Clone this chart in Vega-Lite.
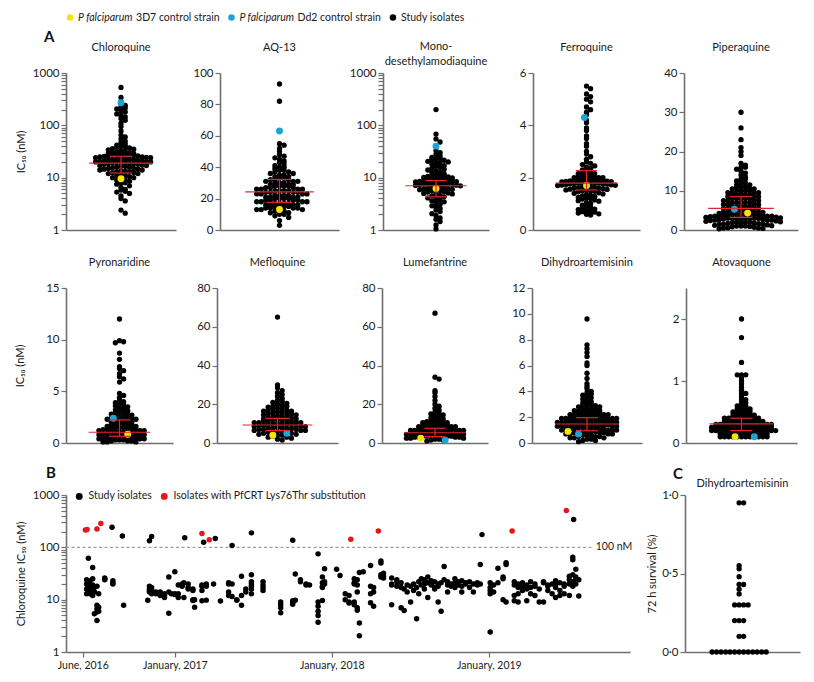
{
"$schema":"https://vega.github.io/schema/vega-lite/v6.json",
"background":"#ffffff",
"padding":{"left":14,"top":12,"right":4,"bottom":4},
"config":{
 "font":"Lato",
 "view":{"stroke":null},
 "axis":{"grid":false,"domainColor":"#6f6f6f","domainWidth":1.6,"tickColor":"#6f6f6f","tickWidth":1.2,"tickSize":5,"labelColor":"#1a1a1a","labelFontSize":11.5,"labelFont":"Lato","titleFont":"Lato","titleFontSize":11,"titleFontWeight":"normal","titleColor":"#1a1a1a","labelPadding":2},
 "axisX":{"labels":false,"ticks":false},
 "title":{"font":"Lato","fontSize":11,"fontWeight":"normal","color":"#1a1a1a","offset":14,"frame":"group","lineHeight":15},
 "circle":{"opacity":1,"size":28},
 "legend":{"labelFont":"Lato"}
},
"datasets":{
 "lg":[{"i":"a","it":"P falciparum","tx":"3D7 control strain"},{"i":"b","it":"P falciparum","tx":"Dd2 control strain"},{"i":"c","it":"","tx":"Study isolates"}],
 "st":[{"d":"cq","med":19,"q1":12.3,"q3":25.6},{"d":"aq","med":24.3,"q1":17.5,"q3":32.2},{"d":"md","med":7,"q1":4.3,"q3":8.8},{"d":"fq","med":1.79,"q1":1.53,"q3":2.27},{"d":"pq","med":5.5,"q1":3.2,"q3":8.5},{"d":"py","med":1.04,"q1":0.65,"q3":2.23},{"d":"mq","med":9.3,"q1":6.4,"q3":12.7},{"d":"lu","med":5.3,"q1":3.3,"q3":7.6},{"d":"dh","med":1.47,"q1":0.95,"q3":1.96},{"d":"at","med":0.31,"q1":0.2,"q3":0.4}],
 "cq":[{"v":530},{"v":340},{"v":285},{"v":260},{"v":240},{"v":225},{"v":215},{"v":205},{"v":190},{"v":180},{"v":165},{"v":155},{"v":145},{"v":135},{"v":125},{"v":110},{"v":95},{"v":78},{"v":65},{"v":60},{"v":55},{"v":50},{"v":47},{"v":44},{"v":42},{"v":40},{"v":39},{"v":38},{"v":37},{"v":36},{"v":35},{"v":34},{"v":33},{"v":32},{"v":31},{"v":30},{"v":30},{"v":29},{"v":29},{"v":28},{"v":28},{"v":27.5},{"v":27},{"v":27},{"v":26.5},{"v":26},{"v":26},{"v":25.5},{"v":25},{"v":25},{"v":24.5},{"v":24},{"v":24},{"v":23.5},{"v":23},{"v":23},{"v":22.5},{"v":22},{"v":22},{"v":21.5},{"v":21.5},{"v":21},{"v":21},{"v":20.5},{"v":20.5},{"v":20},{"v":20},{"v":19.8},{"v":19.5},{"v":19.5},{"v":19},{"v":19},{"v":18.5},{"v":18.5},{"v":18},{"v":18},{"v":17.5},{"v":17},{"v":17},{"v":16.5},{"v":16.5},{"v":16},{"v":16},{"v":15.5},{"v":15},{"v":15},{"v":14.5},{"v":14.5},{"v":14},{"v":14},{"v":13.5},{"v":13.5},{"v":13},{"v":13},{"v":12.5},{"v":12.5},{"v":12},{"v":12},{"v":11.5},{"v":11},{"v":11},{"v":10.5},{"v":10},{"v":10},{"v":9.5},{"v":9},{"v":9},{"v":8.5},{"v":8},{"v":8},{"v":7.5},{"v":7},{"v":6.5},{"v":6},{"v":5.8},{"v":5.5},{"v":5.3},{"v":5},{"v":4.5},{"v":4},{"v":3.6},{"v":2.4},{"v":2.1},{"v":9.5,"t":"y"},{"v":270,"t":"b"}],
 "aq":[{"v":93},{"v":82},{"v":55},{"v":54},{"v":52},{"v":50},{"v":48},{"v":47},{"v":46},{"v":45},{"v":44},{"v":43},{"v":42},{"v":41},{"v":40},{"v":40},{"v":39},{"v":38},{"v":38},{"v":37},{"v":37},{"v":36},{"v":36},{"v":35},{"v":35},{"v":34},{"v":34},{"v":33},{"v":33},{"v":32},{"v":32},{"v":32},{"v":31},{"v":31},{"v":31},{"v":30},{"v":30},{"v":30},{"v":29},{"v":29},{"v":29},{"v":28},{"v":28},{"v":28},{"v":28},{"v":27},{"v":27},{"v":27},{"v":26},{"v":26},{"v":26},{"v":26},{"v":25},{"v":25},{"v":25},{"v":25},{"v":24},{"v":24},{"v":24},{"v":24},{"v":23},{"v":23},{"v":23},{"v":23},{"v":22},{"v":22},{"v":22},{"v":22},{"v":21},{"v":21},{"v":21},{"v":21},{"v":20},{"v":20},{"v":20},{"v":20},{"v":19},{"v":19},{"v":19},{"v":19},{"v":18},{"v":18},{"v":18},{"v":18},{"v":17},{"v":17},{"v":17},{"v":17},{"v":16},{"v":16},{"v":16},{"v":16},{"v":15},{"v":15},{"v":15},{"v":15},{"v":14},{"v":14},{"v":14},{"v":14},{"v":13},{"v":13},{"v":13},{"v":12},{"v":12},{"v":12},{"v":11},{"v":11},{"v":10},{"v":10},{"v":9},{"v":8},{"v":6},{"v":3},{"v":13,"t":"y"},{"v":63,"t":"b"}],
 "md":[{"v":200},{"v":68},{"v":55},{"v":48},{"v":33},{"v":30},{"v":28},{"v":26},{"v":24.5},{"v":23.5},{"v":23},{"v":22},{"v":21.5},{"v":20.5},{"v":20},{"v":19.5},{"v":19},{"v":18},{"v":17},{"v":16.5},{"v":16},{"v":15},{"v":14.5},{"v":14},{"v":13.5},{"v":13},{"v":12.5},{"v":12},{"v":11.7},{"v":11.4},{"v":11.1},{"v":10.9},{"v":10.6},{"v":10.3},{"v":10.1},{"v":9.9},{"v":9.8},{"v":9.6},{"v":9.5},{"v":9.3},{"v":9.1},{"v":9.0},{"v":8.8},{"v":8.6},{"v":8.5},{"v":8.4},{"v":8.3},{"v":8.1},{"v":8.0},{"v":7.9},{"v":7.8},{"v":7.7},{"v":7.6},{"v":7.5},{"v":7.4},{"v":7.3},{"v":7.2},{"v":7.1},{"v":7.0},{"v":6.85},{"v":6.7},{"v":6.5},{"v":6.4},{"v":6.3},{"v":6.2},{"v":6.1},{"v":6.0},{"v":5.9},{"v":5.8},{"v":5.7},{"v":5.6},{"v":5.4},{"v":5.3},{"v":5.1},{"v":5.0},{"v":4.9},{"v":4.8},{"v":4.6},{"v":4.5},{"v":4.3},{"v":4.1},{"v":4.0},{"v":3.8},{"v":3.6},{"v":3.45},{"v":3.3},{"v":3.1},{"v":2.9},{"v":2.75},{"v":2.6},{"v":2.4},{"v":2.25},{"v":2.05},{"v":1.9},{"v":1.7},{"v":1.6},{"v":1.45},{"v":1.25},{"v":1.05},{"v":6.2,"t":"y"},{"v":40,"t":"b"}],
 "fq":[{"v":5.5},{"v":5.4},{"v":5.2},{"v":5.1},{"v":5.0},{"v":4.9},{"v":4.7},{"v":4.6},{"v":4.5},{"v":4.4},{"v":4.2},{"v":4.1},{"v":3.9},{"v":3.8},{"v":3.6},{"v":3.5},{"v":3.3},{"v":3.2},{"v":3.0},{"v":2.9},{"v":2.8},{"v":2.7},{"v":2.6},{"v":2.55},{"v":2.5},{"v":2.45},{"v":2.4},{"v":2.35},{"v":2.3},{"v":2.25},{"v":2.2},{"v":2.2},{"v":2.15},{"v":2.15},{"v":2.1},{"v":2.1},{"v":2.1},{"v":2.05},{"v":2.05},{"v":2.0},{"v":2.0},{"v":2.0},{"v":1.98},{"v":1.96},{"v":1.95},{"v":1.94},{"v":1.92},{"v":1.9},{"v":1.9},{"v":1.89},{"v":1.88},{"v":1.87},{"v":1.86},{"v":1.85},{"v":1.84},{"v":1.83},{"v":1.82},{"v":1.81},{"v":1.8},{"v":1.8},{"v":1.79},{"v":1.78},{"v":1.77},{"v":1.76},{"v":1.75},{"v":1.74},{"v":1.73},{"v":1.72},{"v":1.71},{"v":1.7},{"v":1.68},{"v":1.66},{"v":1.65},{"v":1.63},{"v":1.62},{"v":1.6},{"v":1.6},{"v":1.58},{"v":1.56},{"v":1.55},{"v":1.53},{"v":1.52},{"v":1.5},{"v":1.5},{"v":1.48},{"v":1.46},{"v":1.42},{"v":1.4},{"v":1.38},{"v":1.35},{"v":1.32},{"v":1.3},{"v":1.28},{"v":1.25},{"v":1.22},{"v":1.2},{"v":1.18},{"v":1.15},{"v":1.12},{"v":1.1},{"v":1.05},{"v":1.02},{"v":0.95},{"v":0.9},{"v":0.88},{"v":0.85},{"v":0.8},{"v":0.78},{"v":0.75},{"v":0.72},{"v":0.7},{"v":0.68},{"v":0.65},{"v":0.62},{"v":0.6},{"v":0.57},{"v":1.7,"t":"y"},{"v":4.3,"t":"b"}],
 "pq":[{"v":30},{"v":26},{"v":23},{"v":21},{"v":20},{"v":19},{"v":17},{"v":16.5},{"v":16},{"v":16},{"v":15.5},{"v":15},{"v":14.5},{"v":14},{"v":13.5},{"v":13},{"v":13},{"v":12.5},{"v":12},{"v":12},{"v":11.5},{"v":11.5},{"v":11},{"v":11},{"v":11},{"v":10.5},{"v":10.5},{"v":10.5},{"v":10},{"v":10},{"v":10},{"v":10},{"v":9.5},{"v":9.5},{"v":9.5},{"v":9.5},{"v":9},{"v":9},{"v":9},{"v":9},{"v":8.5},{"v":8.5},{"v":8.5},{"v":8.5},{"v":8},{"v":8},{"v":8},{"v":8},{"v":8},{"v":7.5},{"v":7.5},{"v":7.5},{"v":7.5},{"v":7},{"v":7},{"v":7},{"v":7},{"v":7},{"v":6.5},{"v":6.5},{"v":6.5},{"v":6.5},{"v":6},{"v":6},{"v":6},{"v":6},{"v":6},{"v":5.5},{"v":5.5},{"v":5.5},{"v":5.5},{"v":5},{"v":5},{"v":5},{"v":5},{"v":5},{"v":4.5},{"v":4.5},{"v":4.5},{"v":4.5},{"v":4.5},{"v":4.2},{"v":4},{"v":4},{"v":4},{"v":4},{"v":4},{"v":4},{"v":3.9},{"v":3.8},{"v":3.7},{"v":3.6},{"v":3.5},{"v":3.5},{"v":3.5},{"v":3.5},{"v":3.4},{"v":3.3},{"v":3.2},{"v":3.1},{"v":3},{"v":3},{"v":3},{"v":3},{"v":3},{"v":3},{"v":3},{"v":2.9},{"v":2.8},{"v":2.7},{"v":2.6},{"v":2.5},{"v":2.5},{"v":2.5},{"v":2.4},{"v":2.3},{"v":2.2},{"v":2.1},{"v":2},{"v":2},{"v":2},{"v":2},{"v":1.9},{"v":1.8},{"v":1.7},{"v":1.6},{"v":1.5},{"v":1.5},{"v":1.4},{"v":1.3},{"v":1.2},{"v":1.1},{"v":1},{"v":1},{"v":1},{"v":0.9},{"v":0.8},{"v":0.7},{"v":0.6},{"v":0.5},{"v":0.5},{"v":0.4},{"v":0.3},{"v":5.3,"t":"b"},{"v":4.3,"t":"y"}],
 "py":[{"v":12},{"v":9.9},{"v":9.8},{"v":9.7},{"v":8.7},{"v":8.1},{"v":7.4},{"v":7.2},{"v":7.0},{"v":6.7},{"v":6.4},{"v":6.2},{"v":5.9},{"v":4.8},{"v":4.6},{"v":4.4},{"v":4.2},{"v":4.0},{"v":3.9},{"v":3.8},{"v":3.7},{"v":3.6},{"v":3.5},{"v":3.4},{"v":3.3},{"v":3.2},{"v":3.1},{"v":3.0},{"v":3.0},{"v":2.9},{"v":2.8},{"v":2.8},{"v":2.7},{"v":2.6},{"v":2.6},{"v":2.5},{"v":2.5},{"v":2.4},{"v":2.4},{"v":2.3},{"v":2.3},{"v":2.2},{"v":2.2},{"v":2.1},{"v":2.1},{"v":2.0},{"v":2.0},{"v":1.9},{"v":1.9},{"v":1.8},{"v":1.8},{"v":1.7},{"v":1.7},{"v":1.6},{"v":1.6},{"v":1.5},{"v":1.5},{"v":1.5},{"v":1.4},{"v":1.4},{"v":1.4},{"v":1.3},{"v":1.3},{"v":1.3},{"v":1.2},{"v":1.2},{"v":1.2},{"v":1.1},{"v":1.1},{"v":1.1},{"v":1.0},{"v":1.0},{"v":1.0},{"v":0.9},{"v":0.9},{"v":0.9},{"v":0.8},{"v":0.8},{"v":0.8},{"v":0.7},{"v":0.7},{"v":0.7},{"v":0.6},{"v":0.6},{"v":0.6},{"v":0.5},{"v":0.5},{"v":0.5},{"v":0.4},{"v":0.4},{"v":0.4},{"v":0.3},{"v":0.3},{"v":0.3},{"v":0.2},{"v":0.2},{"v":0.2},{"v":0.1},{"v":0.1},{"v":0.1},{"v":2.4,"t":"b"},{"v":0.85,"t":"y"}],
 "mq":[{"v":65},{"v":30},{"v":28.5},{"v":27},{"v":26},{"v":25},{"v":24},{"v":23},{"v":22},{"v":21.5},{"v":21},{"v":20.5},{"v":20},{"v":19.5},{"v":19},{"v":19},{"v":18.5},{"v":18},{"v":18},{"v":17.5},{"v":17},{"v":17},{"v":16.5},{"v":16.5},{"v":16},{"v":16},{"v":15.5},{"v":15.5},{"v":15},{"v":15},{"v":14.5},{"v":14.5},{"v":14},{"v":14},{"v":13.5},{"v":13.5},{"v":13},{"v":13},{"v":12.5},{"v":12.5},{"v":12},{"v":12},{"v":12},{"v":11.5},{"v":11.5},{"v":11},{"v":11},{"v":11},{"v":10.5},{"v":10.5},{"v":10.5},{"v":10},{"v":10},{"v":10},{"v":9.5},{"v":9.5},{"v":9.5},{"v":9},{"v":9},{"v":9},{"v":8.5},{"v":8.5},{"v":8.5},{"v":8},{"v":8},{"v":8},{"v":7.5},{"v":7.5},{"v":7.5},{"v":7},{"v":7},{"v":7},{"v":6.5},{"v":6.5},{"v":6.5},{"v":6},{"v":6},{"v":6},{"v":5.5},{"v":5.5},{"v":5},{"v":5},{"v":4.5},{"v":4.5},{"v":4},{"v":4},{"v":3.5},{"v":3},{"v":3},{"v":2.5},{"v":2},{"v":1.5},{"v":4,"t":"y"},{"v":5,"t":"b"}],
 "lu":[{"v":67},{"v":34},{"v":33},{"v":27},{"v":26},{"v":24},{"v":22},{"v":20},{"v":19},{"v":18},{"v":17},{"v":16},{"v":15.5},{"v":15},{"v":14.5},{"v":14},{"v":13.5},{"v":13},{"v":12.5},{"v":12},{"v":12},{"v":11.5},{"v":11},{"v":11},{"v":10.5},{"v":10.5},{"v":10},{"v":10},{"v":9.5},{"v":9.5},{"v":9},{"v":9},{"v":9},{"v":8.5},{"v":8.5},{"v":8.5},{"v":8},{"v":8},{"v":8},{"v":7.5},{"v":7.5},{"v":7.5},{"v":7},{"v":7},{"v":7},{"v":7},{"v":6.5},{"v":6.5},{"v":6.5},{"v":6.5},{"v":6},{"v":6},{"v":6},{"v":6},{"v":5.5},{"v":5.5},{"v":5.5},{"v":5},{"v":5},{"v":5},{"v":5},{"v":4.5},{"v":4.5},{"v":4.5},{"v":4.5},{"v":4},{"v":4},{"v":4},{"v":4},{"v":3.5},{"v":3.5},{"v":3.5},{"v":3.5},{"v":3},{"v":3},{"v":3},{"v":3},{"v":2.5},{"v":2.5},{"v":2.5},{"v":2},{"v":2},{"v":1.5},{"v":1.5},{"v":1},{"v":2.5,"t":"y"},{"v":1.5,"t":"b"}],
 "dh":[{"v":9.6},{"v":7.6},{"v":7.3},{"v":7.0},{"v":6.7},{"v":6.2},{"v":6.0},{"v":5.4},{"v":5.0},{"v":4.6},{"v":4.4},{"v":4.2},{"v":4.0},{"v":3.9},{"v":3.8},{"v":3.7},{"v":3.6},{"v":3.5},{"v":3.4},{"v":3.3},{"v":3.2},{"v":3.1},{"v":3.0},{"v":3.0},{"v":2.9},{"v":2.9},{"v":2.8},{"v":2.8},{"v":2.7},{"v":2.7},{"v":2.6},{"v":2.6},{"v":2.5},{"v":2.5},{"v":2.5},{"v":2.4},{"v":2.4},{"v":2.4},{"v":2.3},{"v":2.3},{"v":2.3},{"v":2.2},{"v":2.2},{"v":2.2},{"v":2.2},{"v":2.1},{"v":2.1},{"v":2.1},{"v":2.1},{"v":2.0},{"v":2.0},{"v":2.0},{"v":2.0},{"v":2.0},{"v":1.9},{"v":1.9},{"v":1.9},{"v":1.9},{"v":1.9},{"v":1.8},{"v":1.8},{"v":1.8},{"v":1.8},{"v":1.8},{"v":1.7},{"v":1.7},{"v":1.7},{"v":1.7},{"v":1.7},{"v":1.6},{"v":1.6},{"v":1.6},{"v":1.6},{"v":1.6},{"v":1.5},{"v":1.5},{"v":1.5},{"v":1.5},{"v":1.5},{"v":1.4},{"v":1.4},{"v":1.4},{"v":1.4},{"v":1.4},{"v":1.3},{"v":1.3},{"v":1.3},{"v":1.3},{"v":1.3},{"v":1.2},{"v":1.2},{"v":1.2},{"v":1.2},{"v":1.2},{"v":1.1},{"v":1.1},{"v":1.1},{"v":1.1},{"v":1.0},{"v":1.0},{"v":1.0},{"v":1.0},{"v":1.0},{"v":0.9},{"v":0.9},{"v":0.9},{"v":0.9},{"v":0.8},{"v":0.8},{"v":0.8},{"v":0.8},{"v":0.7},{"v":0.7},{"v":0.7},{"v":0.7},{"v":0.6},{"v":0.6},{"v":0.6},{"v":0.5},{"v":0.5},{"v":0.5},{"v":0.4},{"v":0.4},{"v":0.4},{"v":0.3},{"v":0.3},{"v":0.2},{"v":0.2},{"v":0.1},{"v":0.9,"t":"y"},{"v":0.7,"t":"b"}],
 "at":[{"v":2.0},{"v":1.7},{"v":1.3},{"v":1.1},{"v":1.1},{"v":1.1},{"v":1.05},{"v":1.0},{"v":0.95},{"v":0.9},{"v":0.85},{"v":0.8},{"v":0.8},{"v":0.75},{"v":0.7},{"v":0.7},{"v":0.65},{"v":0.65},{"v":0.6},{"v":0.6},{"v":0.6},{"v":0.55},{"v":0.55},{"v":0.55},{"v":0.55},{"v":0.5},{"v":0.5},{"v":0.5},{"v":0.5},{"v":0.5},{"v":0.45},{"v":0.45},{"v":0.45},{"v":0.45},{"v":0.45},{"v":0.45},{"v":0.4},{"v":0.4},{"v":0.4},{"v":0.4},{"v":0.4},{"v":0.4},{"v":0.4},{"v":0.4},{"v":0.4},{"v":0.35},{"v":0.35},{"v":0.35},{"v":0.35},{"v":0.35},{"v":0.35},{"v":0.35},{"v":0.35},{"v":0.35},{"v":0.35},{"v":0.3},{"v":0.3},{"v":0.3},{"v":0.3},{"v":0.3},{"v":0.3},{"v":0.3},{"v":0.3},{"v":0.3},{"v":0.3},{"v":0.3},{"v":0.3},{"v":0.3},{"v":0.3},{"v":0.25},{"v":0.25},{"v":0.25},{"v":0.25},{"v":0.25},{"v":0.25},{"v":0.25},{"v":0.25},{"v":0.25},{"v":0.25},{"v":0.25},{"v":0.25},{"v":0.25},{"v":0.25},{"v":0.25},{"v":0.2},{"v":0.2},{"v":0.2},{"v":0.2},{"v":0.2},{"v":0.2},{"v":0.2},{"v":0.2},{"v":0.2},{"v":0.2},{"v":0.2},{"v":0.2},{"v":0.2},{"v":0.2},{"v":0.2},{"v":0.2},{"v":0.15},{"v":0.15},{"v":0.15},{"v":0.15},{"v":0.15},{"v":0.15},{"v":0.15},{"v":0.15},{"v":0.15},{"v":0.15},{"v":0.15},{"v":0.15},{"v":0.1},{"v":0.1},{"v":0.1},{"v":0.1},{"v":0.1},{"v":0.1},{"v":0.1},{"v":0.1},{"v":0.1},{"v":0.1},{"v":0.1},{"v":0.1},{"v":0.1,"t":"y"},{"v":0.1,"t":"b"}],
 "sv":[{"v":0.95},{"v":0.95},{"v":0.55},{"v":0.53},{"v":0.48},{"v":0.43},{"v":0.43},{"v":0.4},{"v":0.37},{"v":0.3},{"v":0.3},{"v":0.3},{"v":0.3},{"v":0.2},{"v":0.2},{"v":0.2},{"v":0.1},{"v":0.1},{"v":0},{"v":0},{"v":0},{"v":0},{"v":0},{"v":0},{"v":0},{"v":0},{"v":0},{"v":0},{"v":0},{"v":0},{"v":0}],
 "ref":[{"d":"2016-04-23","z":"2019-08-28","v":100,"lab":"100 nM"}],
 "cqt":[{"d":"2016-06-10","v":20},{"d":"2016-06-10","v":16},{"d":"2016-06-10","v":13},{"d":"2016-06-10","v":24},{"d":"2016-06-14","v":62},{"d":"2016-06-14","v":18},{"d":"2016-06-14","v":14},{"d":"2016-06-14","v":21},{"d":"2016-06-18","v":23},{"d":"2016-06-18","v":17},{"d":"2016-06-18","v":13},{"d":"2016-06-18","v":15},{"d":"2016-06-24","v":41},{"d":"2016-06-24","v":19},{"d":"2016-06-24","v":12},{"d":"2016-06-24","v":25},{"d":"2016-06-24","v":18},{"d":"2016-06-28","v":5.4},{"d":"2016-06-28","v":17},{"d":"2016-06-28","v":14},{"d":"2016-07-04","v":4.0},{"d":"2016-07-04","v":7.8},{"d":"2016-07-04","v":6.7},{"d":"2016-07-04","v":5.8},{"d":"2016-07-04","v":18},{"d":"2016-07-08","v":6.0},{"d":"2016-07-08","v":7.2},{"d":"2016-07-08","v":13},{"d":"2016-07-22","v":26},{"d":"2016-07-22","v":25},{"d":"2016-07-22","v":24},{"d":"2016-08-10","v":23},{"d":"2016-08-10","v":21},{"d":"2016-08-10","v":20},{"d":"2016-08-08","v":242},{"d":"2016-09-01","v":165},{"d":"2016-09-04","v":7.8},{"d":"2016-10-30","v":9.7},{"d":"2016-11-03","v":18},{"d":"2016-11-03","v":16},{"d":"2016-11-03","v":15},{"d":"2016-11-03","v":14},{"d":"2016-11-03","v":134},{"d":"2016-11-08","v":17},{"d":"2016-11-08","v":15},{"d":"2016-11-08","v":13},{"d":"2016-11-08","v":161},{"d":"2016-11-18","v":14},{"d":"2016-11-18","v":13},{"d":"2016-11-28","v":14},{"d":"2016-11-28","v":12},{"d":"2016-12-08","v":12},{"d":"2016-12-08","v":11},{"d":"2016-12-08","v":13},{"d":"2016-12-18","v":27},{"d":"2016-12-18","v":14},{"d":"2016-12-18","v":5.5},{"d":"2016-12-24","v":13},{"d":"2017-01-01","v":34},{"d":"2017-01-01","v":13},{"d":"2017-01-01","v":12.5},{"d":"2017-01-09","v":19},{"d":"2017-01-09","v":13},{"d":"2017-01-09","v":11},{"d":"2017-01-18","v":20},{"d":"2017-01-18","v":18},{"d":"2017-01-22","v":11},{"d":"2017-01-22","v":21},{"d":"2017-01-24","v":152},{"d":"2017-02-01","v":20},{"d":"2017-02-01","v":17},{"d":"2017-02-01","v":16},{"d":"2017-02-12","v":16},{"d":"2017-02-12","v":15},{"d":"2017-02-12","v":10},{"d":"2017-02-12","v":9.6},{"d":"2017-02-16","v":7.2},{"d":"2017-02-16","v":10},{"d":"2017-03-05","v":19},{"d":"2017-03-05","v":18},{"d":"2017-03-05","v":15},{"d":"2017-03-05","v":9.5},{"d":"2017-03-09","v":125},{"d":"2017-03-15","v":18},{"d":"2017-03-15","v":9.8},{"d":"2017-03-15","v":20},{"d":"2017-04-01","v":20},{"d":"2017-04-05","v":147},{"d":"2017-04-17","v":9.4},{"d":"2017-05-06","v":21},{"d":"2017-05-06","v":20},{"d":"2017-05-06","v":14},{"d":"2017-05-06","v":12},{"d":"2017-05-14","v":20},{"d":"2017-05-14","v":11.5},{"d":"2017-05-14","v":108},{"d":"2017-05-25","v":10},{"d":"2017-05-25","v":9.8},{"d":"2017-06-05","v":28},{"d":"2017-06-05","v":12},{"d":"2017-06-05","v":7.8},{"d":"2017-06-15","v":16},{"d":"2017-06-15","v":14},{"d":"2017-06-28","v":30},{"d":"2017-06-28","v":22},{"d":"2017-06-28","v":20},{"d":"2017-06-28","v":18},{"d":"2017-06-28","v":16},{"d":"2017-06-28","v":13},{"d":"2017-06-28","v":189},{"d":"2017-07-25","v":22},{"d":"2017-07-25","v":19},{"d":"2017-07-25","v":17},{"d":"2017-07-25","v":15},{"d":"2017-09-04","v":9},{"d":"2017-09-04","v":8},{"d":"2017-09-04","v":7},{"d":"2017-09-04","v":5.6},{"d":"2017-10-02","v":8.2},{"d":"2017-10-02","v":8.8},{"d":"2017-10-02","v":9.5},{"d":"2017-10-02","v":137},{"d":"2017-10-08","v":9.8},{"d":"2017-10-08","v":31},{"d":"2017-10-20","v":22},{"d":"2017-10-20","v":24},{"d":"2017-11-02","v":19},{"d":"2017-11-02","v":20},{"d":"2017-11-10","v":19},{"d":"2017-11-30","v":75},{"d":"2017-11-30","v":9},{"d":"2017-11-30","v":7.5},{"d":"2017-11-30","v":6},{"d":"2017-11-30","v":5},{"d":"2017-11-30","v":3.7},{"d":"2017-12-10","v":27},{"d":"2017-12-10","v":21},{"d":"2017-12-10","v":18},{"d":"2017-12-10","v":17},{"d":"2017-12-10","v":9.6},{"d":"2017-12-15","v":39},{"d":"2017-12-15","v":22},{"d":"2017-12-15","v":20},{"d":"2018-01-12","v":38},{"d":"2018-01-20","v":29},{"d":"2018-02-01","v":10},{"d":"2018-02-01","v":13},{"d":"2018-02-10","v":12},{"d":"2018-02-10","v":9},{"d":"2018-02-10","v":8.6},{"d":"2018-02-22","v":25},{"d":"2018-02-22","v":21},{"d":"2018-02-22","v":20},{"d":"2018-02-22","v":9},{"d":"2018-02-22","v":8},{"d":"2018-03-01","v":24},{"d":"2018-03-01","v":19},{"d":"2018-03-01","v":7},{"d":"2018-03-01","v":6.3},{"d":"2018-03-01","v":14},{"d":"2018-03-06","v":3.6},{"d":"2018-03-06","v":2.05},{"d":"2018-03-06","v":33},{"d":"2018-03-15","v":34},{"d":"2018-04-01","v":45},{"d":"2018-04-01","v":18},{"d":"2018-04-01","v":13},{"d":"2018-04-01","v":8.7},{"d":"2018-04-08","v":7.5},{"d":"2018-04-08","v":17},{"d":"2018-04-08","v":14},{"d":"2018-04-25","v":50},{"d":"2018-04-25","v":55},{"d":"2018-04-25","v":30},{"d":"2018-04-25","v":27},{"d":"2018-05-01","v":26},{"d":"2018-05-01","v":28},{"d":"2018-05-01","v":32},{"d":"2018-05-20","v":26},{"d":"2018-05-20","v":20},{"d":"2018-05-20","v":19},{"d":"2018-05-20","v":8},{"d":"2018-06-01","v":22},{"d":"2018-06-01","v":18},{"d":"2018-06-01","v":24},{"d":"2018-06-11","v":21},{"d":"2018-06-11","v":17},{"d":"2018-06-11","v":7},{"d":"2018-06-18","v":16},{"d":"2018-06-18","v":6.2},{"d":"2018-06-25","v":19},{"d":"2018-06-25","v":14},{"d":"2018-07-03","v":18},{"d":"2018-07-03","v":9},{"d":"2018-07-10","v":20},{"d":"2018-07-10","v":15},{"d":"2018-07-17","v":17},{"d":"2018-07-17","v":4.3},{"d":"2018-07-22","v":22},{"d":"2018-07-22","v":13},{"d":"2018-07-28","v":25},{"d":"2018-07-28","v":19},{"d":"2018-08-04","v":24},{"d":"2018-08-04","v":20},{"d":"2018-08-04","v":16},{"d":"2018-08-12","v":27},{"d":"2018-08-12","v":21},{"d":"2018-08-12","v":11},{"d":"2018-08-20","v":23},{"d":"2018-08-20","v":19},{"d":"2018-08-28","v":22},{"d":"2018-08-28","v":17},{"d":"2018-08-28","v":16},{"d":"2018-09-05","v":20},{"d":"2018-09-05","v":18},{"d":"2018-09-05","v":9},{"d":"2018-09-12","v":21},{"d":"2018-09-12","v":6.0},{"d":"2018-09-19","v":24},{"d":"2018-09-19","v":43},{"d":"2018-09-27","v":22},{"d":"2018-09-27","v":19},{"d":"2018-09-27","v":14},{"d":"2018-10-05","v":20},{"d":"2018-10-05","v":18},{"d":"2018-10-14","v":25},{"d":"2018-10-14","v":21},{"d":"2018-10-14","v":17},{"d":"2018-10-22","v":22},{"d":"2018-10-22","v":19},{"d":"2018-10-30","v":23},{"d":"2018-10-30","v":18},{"d":"2018-10-30","v":14},{"d":"2018-11-08","v":21},{"d":"2018-11-08","v":20},{"d":"2018-11-17","v":22},{"d":"2018-11-17","v":17},{"d":"2018-11-26","v":20},{"d":"2018-11-26","v":14},{"d":"2018-12-05","v":19},{"d":"2018-12-05","v":21},{"d":"2018-12-12","v":47},{"d":"2018-12-12","v":20},{"d":"2018-12-16","v":175},{"d":"2019-01-04","v":21},{"d":"2019-01-04","v":17},{"d":"2019-01-04","v":15},{"d":"2019-01-04","v":13},{"d":"2019-01-04","v":2.4},{"d":"2019-01-12","v":19},{"d":"2019-01-12","v":14},{"d":"2019-01-22","v":40},{"d":"2019-01-22","v":21},{"d":"2019-02-03","v":25},{"d":"2019-02-03","v":10},{"d":"2019-02-03","v":27},{"d":"2019-02-10","v":51},{"d":"2019-02-10","v":47},{"d":"2019-02-10","v":9},{"d":"2019-03-01","v":22},{"d":"2019-03-01","v":19},{"d":"2019-03-01","v":12},{"d":"2019-03-01","v":9.5},{"d":"2019-03-10","v":20},{"d":"2019-03-10","v":17},{"d":"2019-03-10","v":13},{"d":"2019-03-10","v":9},{"d":"2019-03-20","v":21},{"d":"2019-03-20","v":18},{"d":"2019-03-20","v":15},{"d":"2019-03-30","v":19},{"d":"2019-03-30","v":16},{"d":"2019-03-30","v":9.5},{"d":"2019-04-08","v":22},{"d":"2019-04-08","v":17},{"d":"2019-04-08","v":13},{"d":"2019-04-18","v":20},{"d":"2019-04-18","v":18},{"d":"2019-04-18","v":12},{"d":"2019-04-28","v":16},{"d":"2019-04-28","v":9},{"d":"2019-05-08","v":22},{"d":"2019-05-08","v":21},{"d":"2019-05-08","v":9},{"d":"2019-05-18","v":19},{"d":"2019-05-18","v":18},{"d":"2019-05-18","v":15},{"d":"2019-05-28","v":20},{"d":"2019-05-28","v":13},{"d":"2019-06-05","v":23},{"d":"2019-06-05","v":19},{"d":"2019-06-05","v":17},{"d":"2019-06-05","v":11},{"d":"2019-06-15","v":21},{"d":"2019-06-15","v":15},{"d":"2019-06-15","v":12},{"d":"2019-06-25","v":20},{"d":"2019-06-25","v":18},{"d":"2019-06-25","v":13},{"d":"2019-07-07","v":28},{"d":"2019-07-07","v":24},{"d":"2019-07-07","v":20},{"d":"2019-07-07","v":12},{"d":"2019-07-17","v":339},{"d":"2019-07-15","v":65},{"d":"2019-07-15","v":58},{"d":"2019-07-15","v":30},{"d":"2019-07-15","v":22},{"d":"2019-07-15","v":18},{"d":"2019-07-22","v":27},{"d":"2019-07-22","v":25},{"d":"2019-07-22","v":38},{"d":"2019-07-22","v":20},{"d":"2019-07-29","v":24},{"d":"2019-07-29","v":11.7},{"d":"2016-06-07","v":215,"g":"m"},{"d":"2016-06-11","v":220,"g":"m"},{"d":"2016-07-04","v":225,"g":"m"},{"d":"2016-07-13","v":285,"g":"m"},{"d":"2017-03-05","v":183,"g":"m"},{"d":"2017-03-22","v":139,"g":"m"},{"d":"2018-02-14","v":143,"g":"m"},{"d":"2018-04-19","v":206,"g":"m"},{"d":"2019-02-24","v":206,"g":"m"},{"d":"2019-06-30","v":504,"g":"m"}]
},
"spacing":21,
"resolve":{"scale":{"color":"independent"},"legend":{"color":"independent"}},
"vconcat":[
 {"vconcat":[
  {"width":331,"height":7,
   "data":{"name":"lg"},
   "encoding":{"x":{"field":"i","type":"nominal","scale":{"type":"point","domain":["a","b","c"],"padding":0.025},"axis":null}},
   "layer":[
    {"mark":{"type":"circle","size":42},"encoding":{"color":{"condition":[{"test":"datum.i=='a'","value":"#f7e400"},{"test":"datum.i=='b'","value":"#1aa5d8"}],"value":"#000000"}}},
    {"mark":{"type":"text","align":"left","baseline":"middle","dx":8,"fontStyle":"italic","fontSize":10.5,"color":"#1a1a1a"},"encoding":{"text":{"field":"it"}}},
    {"transform":[{"filter":"datum.i!='c'"}],"mark":{"type":"text","align":"left","baseline":"middle","dx":66,"fontSize":10.5,"color":"#1a1a1a"},"encoding":{"text":{"field":"tx"}}},
    {"transform":[{"filter":"datum.i=='c'"}],"mark":{"type":"text","align":"left","baseline":"middle","dx":8,"fontSize":10.5,"color":"#1a1a1a"},"encoding":{"text":{"field":"tx"}}}
   ]},
  {"title":{"text":"A","anchor":"start","dx":-22,"offset":-4,"fontSize":15,"fontWeight":"bold","color":"#111111"},
   "hconcat":[
   {"width":110,"height":157,"title":"Chloroquine",
    "encoding":{"y":{"field":"v","type":"quantitative","scale":{"type":"log","domain":[1,1000],"nice":false},"axis":{"values":[1,2,3,4,5,6,7,8,9,10,20,30,40,50,60,70,80,90,100,200,300,400,500,600,700,800,900,1000],"labelExpr":"datum.value==1||datum.value==10||datum.value==100||datum.value==1000 ? ''+datum.value : ''","labelOverlap":false,"title":"IC₅₀ (nM)","titlePadding":6}}},
    "layer":[
     {"data":{"name":"cq"},"transform":[{"calculate":"floor(log(datum.v)/LN10/0.0764)","as":"b"},{"calculate":"datum.t ? 1 : 0","as":"k"},{"window":[{"op":"row_number","as":"rn"}],"groupby":["b"],"sort":[{"field":"k"}]},{"calculate":"(datum.rn % 2 == 0 ? 1 : -1) * floor(datum.rn / 2)","as":"o"},{"calculate":"datum.t=='y' ? 0 : (datum.t=='b' ? 0 : datum.o)","as":"o"}],
      "mark":{"type":"circle"},
      "encoding":{"x":{"field":"o","type":"quantitative","scale":{"domain":[-13,13],"nice":false,"zero":false},"axis":{"title":null}},"color":{"condition":[{"test":"datum.t=='y'","value":"#f7e400"},{"test":"datum.t=='b'","value":"#1aa5d8"}],"value":"#000000"},"size":{"condition":{"test":"datum.t","value":48},"value":28}}},
     {"data":{"name":"st"},"transform":[{"filter":"datum.d=='cq'"},{"fold":["med","q1","q3"],"as":["key","v"]},{"calculate":"datum.key=='med'?7.5:2.6","as":"w"},{"calculate":"-datum.w","as":"nw"}],"mark":{"type":"rule","color":"#e3262e","strokeWidth":1.2},"encoding":{"x":{"field":"nw","type":"quantitative"},"x2":{"field":"w"}}},
     {"data":{"name":"st"},"transform":[{"filter":"datum.d=='cq'"},{"calculate":"datum.q1","as":"v"}],"mark":{"type":"rule","color":"#e3262e","strokeWidth":1.2},"encoding":{"x":{"datum":0},"y2":{"field":"q3"}}}
    ]},
   {"width":119,"height":157,"title":"AQ-13",
    "encoding":{"y":{"field":"v","type":"quantitative","scale":{"domain":[0,100],"nice":false},"axis":{"values":[0,20,40,60,80,100],"title":null}}},
    "layer":[
     {"data":{"name":"aq"},"transform":[{"calculate":"floor(datum.v/2.55)","as":"b"},{"calculate":"datum.t ? 1 : 0","as":"k"},{"window":[{"op":"row_number","as":"rn"}],"groupby":["b"],"sort":[{"field":"k"}]},{"calculate":"(datum.rn % 2 == 0 ? 1 : -1) * floor(datum.rn / 2)","as":"o"},{"calculate":"datum.t=='y' ? 0 : (datum.t=='b' ? 0 : datum.o)","as":"o"}],
      "mark":{"type":"circle"},
      "encoding":{"x":{"field":"o","type":"quantitative","scale":{"domain":[-13,13],"nice":false,"zero":false},"axis":{"title":null}},"color":{"condition":[{"test":"datum.t=='y'","value":"#f7e400"},{"test":"datum.t=='b'","value":"#1aa5d8"}],"value":"#000000"},"size":{"condition":{"test":"datum.t","value":48},"value":28}}},
     {"data":{"name":"st"},"transform":[{"filter":"datum.d=='aq'"},{"fold":["med","q1","q3"],"as":["key","v"]},{"calculate":"datum.key=='med'?7.5:2.6","as":"w"},{"calculate":"-datum.w","as":"nw"}],"mark":{"type":"rule","color":"#e3262e","strokeWidth":1.2},"encoding":{"x":{"field":"nw","type":"quantitative"},"x2":{"field":"w"}}},
     {"data":{"name":"st"},"transform":[{"filter":"datum.d=='aq'"},{"calculate":"datum.q1","as":"v"}],"mark":{"type":"rule","color":"#e3262e","strokeWidth":1.2},"encoding":{"x":{"datum":0},"y2":{"field":"q3"}}}
    ]},
   {"width":106,"height":157,"title":{"text":["Mono-","desethylamodiaquine"],"offset":0},
    "encoding":{"y":{"field":"v","type":"quantitative","scale":{"type":"log","domain":[1,1000],"nice":false},"axis":{"values":[1,2,3,4,5,6,7,8,9,10,20,30,40,50,60,70,80,90,100,200,300,400,500,600,700,800,900,1000],"labelExpr":"datum.value==1||datum.value==10||datum.value==100||datum.value==1000 ? ''+datum.value : ''","labelOverlap":false,"title":null}}},
    "layer":[
     {"data":{"name":"md"},"transform":[{"calculate":"floor(log(datum.v)/LN10/0.0764)","as":"b"},{"calculate":"datum.t ? 1 : 0","as":"k"},{"window":[{"op":"row_number","as":"rn"}],"groupby":["b"],"sort":[{"field":"k"}]},{"calculate":"(datum.rn % 2 == 0 ? 1 : -1) * floor(datum.rn / 2)","as":"o"},{"calculate":"datum.t=='y' ? 0 : (datum.t=='b' ? 0 : datum.o)","as":"o"}],
      "mark":{"type":"circle"},
      "encoding":{"x":{"field":"o","type":"quantitative","scale":{"domain":[-13,13],"nice":false,"zero":false},"axis":{"title":null}},"color":{"condition":[{"test":"datum.t=='y'","value":"#f7e400"},{"test":"datum.t=='b'","value":"#1aa5d8"}],"value":"#000000"},"size":{"condition":{"test":"datum.t","value":48},"value":28}}},
     {"data":{"name":"st"},"transform":[{"filter":"datum.d=='md'"},{"fold":["med","q1","q3"],"as":["key","v"]},{"calculate":"datum.key=='med'?7.5:2.6","as":"w"},{"calculate":"-datum.w","as":"nw"}],"mark":{"type":"rule","color":"#e3262e","strokeWidth":1.2},"encoding":{"x":{"field":"nw","type":"quantitative"},"x2":{"field":"w"}}},
     {"data":{"name":"st"},"transform":[{"filter":"datum.d=='md'"},{"calculate":"datum.q1","as":"v"}],"mark":{"type":"rule","color":"#e3262e","strokeWidth":1.2},"encoding":{"x":{"datum":0},"y2":{"field":"q3"}}}
    ]},
   {"width":107,"height":157,"title":"Ferroquine",
    "encoding":{"y":{"field":"v","type":"quantitative","scale":{"domain":[0,6],"nice":false},"axis":{"values":[0,2,4,6],"title":null}}},
    "layer":[
     {"data":{"name":"fq"},"transform":[{"calculate":"floor(datum.v/0.153)","as":"b"},{"calculate":"datum.t ? 1 : 0","as":"k"},{"window":[{"op":"row_number","as":"rn"}],"groupby":["b"],"sort":[{"field":"k"}]},{"calculate":"(datum.rn % 2 == 0 ? 1 : -1) * floor(datum.rn / 2)","as":"o"},{"calculate":"datum.t=='y' ? 0 : (datum.t=='b' ? -0.5 : datum.o)","as":"o"}],
      "mark":{"type":"circle"},
      "encoding":{"x":{"field":"o","type":"quantitative","scale":{"domain":[-13,13],"nice":false,"zero":false},"axis":{"title":null}},"color":{"condition":[{"test":"datum.t=='y'","value":"#f7e400"},{"test":"datum.t=='b'","value":"#1aa5d8"}],"value":"#000000"},"size":{"condition":{"test":"datum.t","value":48},"value":28}}},
     {"data":{"name":"st"},"transform":[{"filter":"datum.d=='fq'"},{"fold":["med","q1","q3"],"as":["key","v"]},{"calculate":"datum.key=='med'?7.5:2.6","as":"w"},{"calculate":"-datum.w","as":"nw"}],"mark":{"type":"rule","color":"#e3262e","strokeWidth":1.2},"encoding":{"x":{"field":"nw","type":"quantitative"},"x2":{"field":"w"}}},
     {"data":{"name":"st"},"transform":[{"filter":"datum.d=='fq'"},{"calculate":"datum.q1","as":"v"}],"mark":{"type":"rule","color":"#e3262e","strokeWidth":1.2},"encoding":{"x":{"datum":0},"y2":{"field":"q3"}}}
    ]},
   {"width":114,"height":157,"title":"Piperaquine",
    "encoding":{"y":{"field":"v","type":"quantitative","scale":{"domain":[0,40],"nice":false},"axis":{"values":[0,10,20,30,40],"title":null}}},
    "layer":[
     {"data":{"name":"pq"},"transform":[{"calculate":"floor(datum.v/1.02)","as":"b"},{"calculate":"datum.t ? 1 : 0","as":"k"},{"window":[{"op":"row_number","as":"rn"}],"groupby":["b"],"sort":[{"field":"k"}]},{"calculate":"(datum.rn % 2 == 0 ? 1 : -1) * floor(datum.rn / 2)","as":"o"},{"calculate":"datum.t=='y' ? 1.5 : (datum.t=='b' ? -1.5 : datum.o)","as":"o"}],
      "mark":{"type":"circle"},
      "encoding":{"x":{"field":"o","type":"quantitative","scale":{"domain":[-13,13],"nice":false,"zero":false},"axis":{"title":null}},"color":{"condition":[{"test":"datum.t=='y'","value":"#f7e400"},{"test":"datum.t=='b'","value":"#1aa5d8"}],"value":"#000000"},"size":{"condition":{"test":"datum.t","value":48},"value":28}}},
     {"data":{"name":"st"},"transform":[{"filter":"datum.d=='pq'"},{"fold":["med","q1","q3"],"as":["key","v"]},{"calculate":"datum.key=='med'?7.5:2.6","as":"w"},{"calculate":"-datum.w","as":"nw"}],"mark":{"type":"rule","color":"#e3262e","strokeWidth":1.2},"encoding":{"x":{"field":"nw","type":"quantitative"},"x2":{"field":"w"}}},
     {"data":{"name":"st"},"transform":[{"filter":"datum.d=='pq'"},{"calculate":"datum.q1","as":"v"}],"mark":{"type":"rule","color":"#e3262e","strokeWidth":1.2},"encoding":{"x":{"datum":0},"y2":{"field":"q3"}}}
    ]}
  ],"spacing":44,"bounds":"flush"}
 ],"spacing":7},
 {"vconcat":[
  {"hconcat":[
   {"width":107,"height":155,"title":"Pyronaridine",
    "encoding":{"y":{"field":"v","type":"quantitative","scale":{"domain":[0,15],"nice":false},"axis":{"values":[0,5,10,15],"title":"IC₅₀ (nM)","titlePadding":20}}},
    "layer":[
     {"data":{"name":"py"},"transform":[{"calculate":"floor(datum.v/0.382)","as":"b"},{"calculate":"datum.t ? 1 : 0","as":"k"},{"window":[{"op":"row_number","as":"rn"}],"groupby":["b"],"sort":[{"field":"k"}]},{"calculate":"(datum.rn % 2 == 0 ? 1 : -1) * floor(datum.rn / 2)","as":"o"},{"calculate":"datum.t=='y' ? 2 : (datum.t=='b' ? -1.5 : datum.o)","as":"o"}],
      "mark":{"type":"circle"},
      "encoding":{"x":{"field":"o","type":"quantitative","scale":{"domain":[-13,13],"nice":false,"zero":false},"axis":{"title":null}},"color":{"condition":[{"test":"datum.t=='y'","value":"#f7e400"},{"test":"datum.t=='b'","value":"#1aa5d8"}],"value":"#000000"},"size":{"condition":{"test":"datum.t","value":48},"value":28}}},
     {"data":{"name":"st"},"transform":[{"filter":"datum.d=='py'"},{"fold":["med","q1","q3"],"as":["key","v"]},{"calculate":"datum.key=='med'?7.5:2.6","as":"w"},{"calculate":"-datum.w","as":"nw"}],"mark":{"type":"rule","color":"#e3262e","strokeWidth":1.2},"encoding":{"x":{"field":"nw","type":"quantitative"},"x2":{"field":"w"}}},
     {"data":{"name":"st"},"transform":[{"filter":"datum.d=='py'"},{"calculate":"datum.q1","as":"v"}],"mark":{"type":"rule","color":"#e3262e","strokeWidth":1.2},"encoding":{"x":{"datum":0},"y2":{"field":"q3"}}}
    ]},
   {"width":121,"height":155,"title":"Mefloquine",
    "encoding":{"y":{"field":"v","type":"quantitative","scale":{"domain":[0,80],"nice":false},"axis":{"values":[0,20,40,60,80],"title":null}}},
    "layer":[
     {"data":{"name":"mq"},"transform":[{"calculate":"floor(datum.v/2.04)","as":"b"},{"calculate":"datum.t ? 1 : 0","as":"k"},{"window":[{"op":"row_number","as":"rn"}],"groupby":["b"],"sort":[{"field":"k"}]},{"calculate":"(datum.rn % 2 == 0 ? 1 : -1) * floor(datum.rn / 2)","as":"o"},{"calculate":"datum.t=='y' ? -1 : (datum.t=='b' ? 2 : datum.o)","as":"o"}],
      "mark":{"type":"circle"},
      "encoding":{"x":{"field":"o","type":"quantitative","scale":{"domain":[-13,13],"nice":false,"zero":false},"axis":{"title":null}},"color":{"condition":[{"test":"datum.t=='y'","value":"#f7e400"},{"test":"datum.t=='b'","value":"#1aa5d8"}],"value":"#000000"},"size":{"condition":{"test":"datum.t","value":48},"value":28}}},
     {"data":{"name":"st"},"transform":[{"filter":"datum.d=='mq'"},{"fold":["med","q1","q3"],"as":["key","v"]},{"calculate":"datum.key=='med'?7.5:2.6","as":"w"},{"calculate":"-datum.w","as":"nw"}],"mark":{"type":"rule","color":"#e3262e","strokeWidth":1.2},"encoding":{"x":{"field":"nw","type":"quantitative"},"x2":{"field":"w"}}},
     {"data":{"name":"st"},"transform":[{"filter":"datum.d=='mq'"},{"calculate":"datum.q1","as":"v"}],"mark":{"type":"rule","color":"#e3262e","strokeWidth":1.2},"encoding":{"x":{"datum":0},"y2":{"field":"q3"}}}
    ]},
   {"width":106,"height":155,"title":"Lumefantrine",
    "encoding":{"y":{"field":"v","type":"quantitative","scale":{"domain":[0,80],"nice":false},"axis":{"values":[0,20,40,60,80],"title":null}}},
    "layer":[
     {"data":{"name":"lu"},"transform":[{"calculate":"floor(datum.v/2.04)","as":"b"},{"calculate":"datum.t ? 1 : 0","as":"k"},{"window":[{"op":"row_number","as":"rn"}],"groupby":["b"],"sort":[{"field":"k"}]},{"calculate":"(datum.rn % 2 == 0 ? 1 : -1) * floor(datum.rn / 2)","as":"o"},{"calculate":"datum.t=='y' ? -3.5 : (datum.t=='b' ? 2.5 : datum.o)","as":"o"}],
      "mark":{"type":"circle"},
      "encoding":{"x":{"field":"o","type":"quantitative","scale":{"domain":[-13,13],"nice":false,"zero":false},"axis":{"title":null}},"color":{"condition":[{"test":"datum.t=='y'","value":"#f7e400"},{"test":"datum.t=='b'","value":"#1aa5d8"}],"value":"#000000"},"size":{"condition":{"test":"datum.t","value":48},"value":28}}},
     {"data":{"name":"st"},"transform":[{"filter":"datum.d=='lu'"},{"fold":["med","q1","q3"],"as":["key","v"]},{"calculate":"datum.key=='med'?7.5:2.6","as":"w"},{"calculate":"-datum.w","as":"nw"}],"mark":{"type":"rule","color":"#e3262e","strokeWidth":1.2},"encoding":{"x":{"field":"nw","type":"quantitative"},"x2":{"field":"w"}}},
     {"data":{"name":"st"},"transform":[{"filter":"datum.d=='lu'"},{"calculate":"datum.q1","as":"v"}],"mark":{"type":"rule","color":"#e3262e","strokeWidth":1.2},"encoding":{"x":{"datum":0},"y2":{"field":"q3"}}}
    ]},
   {"width":110,"height":155,"title":"Dihydroartemisinin",
    "encoding":{"y":{"field":"v","type":"quantitative","scale":{"domain":[0,12],"nice":false},"axis":{"values":[0,2,4,6,8,10,12],"title":null}}},
    "layer":[
     {"data":{"name":"dh"},"transform":[{"calculate":"floor(datum.v/0.306)","as":"b"},{"calculate":"datum.t ? 1 : 0","as":"k"},{"window":[{"op":"row_number","as":"rn"}],"groupby":["b"],"sort":[{"field":"k"}]},{"calculate":"(datum.rn % 2 == 0 ? 1 : -1) * floor(datum.rn / 2)","as":"o"},{"calculate":"datum.t=='y' ? -4.5 : (datum.t=='b' ? -2 : datum.o)","as":"o"}],
      "mark":{"type":"circle"},
      "encoding":{"x":{"field":"o","type":"quantitative","scale":{"domain":[-13,13],"nice":false,"zero":false},"axis":{"title":null}},"color":{"condition":[{"test":"datum.t=='y'","value":"#f7e400"},{"test":"datum.t=='b'","value":"#1aa5d8"}],"value":"#000000"},"size":{"condition":{"test":"datum.t","value":48},"value":28}}},
     {"data":{"name":"st"},"transform":[{"filter":"datum.d=='dh'"},{"fold":["med","q1","q3"],"as":["key","v"]},{"calculate":"datum.key=='med'?7.5:2.6","as":"w"},{"calculate":"-datum.w","as":"nw"}],"mark":{"type":"rule","color":"#e3262e","strokeWidth":1.2},"encoding":{"x":{"field":"nw","type":"quantitative"},"x2":{"field":"w"}}},
     {"data":{"name":"st"},"transform":[{"filter":"datum.d=='dh'"},{"calculate":"datum.q1","as":"v"}],"mark":{"type":"rule","color":"#e3262e","strokeWidth":1.2},"encoding":{"x":{"datum":0},"y2":{"field":"q3"}}}
    ]},
   {"width":111,"height":155,"title":{"text":"Atovaquone","offset":20},
    "encoding":{"y":{"field":"v","type":"quantitative","scale":{"domain":[0,2.5],"nice":false},"axis":{"values":[0,1,2],"title":null}}},
    "layer":[
     {"data":{"name":"at"},"transform":[{"calculate":"round(datum.v/0.05)","as":"b"},{"calculate":"datum.t ? 1 : 0","as":"k"},{"window":[{"op":"row_number","as":"rn"}],"groupby":["b"],"sort":[{"field":"k"}]},{"calculate":"(datum.rn % 2 == 0 ? 1 : -1) * floor(datum.rn / 2)","as":"o"},{"calculate":"datum.t=='y' ? -1.5 : (datum.t=='b' ? 3 : datum.o)","as":"o"}],
      "mark":{"type":"circle"},
      "encoding":{"x":{"field":"o","type":"quantitative","scale":{"domain":[-13,13],"nice":false,"zero":false},"axis":{"title":null}},"color":{"condition":[{"test":"datum.t=='y'","value":"#f7e400"},{"test":"datum.t=='b'","value":"#1aa5d8"}],"value":"#000000"},"size":{"condition":{"test":"datum.t","value":48},"value":28}}},
     {"data":{"name":"st"},"transform":[{"filter":"datum.d=='at'"},{"fold":["med","q1","q3"],"as":["key","v"]},{"calculate":"datum.key=='med'?7.5:2.6","as":"w"},{"calculate":"-datum.w","as":"nw"}],"mark":{"type":"rule","color":"#e3262e","strokeWidth":1.2},"encoding":{"x":{"field":"nw","type":"quantitative"},"x2":{"field":"w"}}},
     {"data":{"name":"st"},"transform":[{"filter":"datum.d=='at'"},{"calculate":"datum.q1","as":"v"}],"mark":{"type":"rule","color":"#e3262e","strokeWidth":1.2},"encoding":{"x":{"datum":0},"y2":{"field":"q3"}}}
    ]}
  ],"spacing":44,"bounds":"flush"},
  {"hconcat":[
   {"width":564,"height":157,
    "title":{"text":"B","anchor":"start","dx":-20,"offset":8,"fontSize":15,"fontWeight":"bold","color":"#111111"},
    "encoding":{
     "x":{"field":"d","type":"temporal","scale":{"domain":[{"year":2016,"month":4,"date":23},{"year":2019,"month":11,"date":25}],"nice":false},"axis":{"title":null,"labels":true,"ticks":true,"values":[{"year":2016,"month":6,"date":1},{"year":2017,"month":1,"date":1},{"year":2018,"month":1,"date":1},{"year":2019,"month":1,"date":1}],"labelExpr":"timeFormat(datum.value, '%B, %Y')","labelPadding":3,"labelFontSize":10.5}},
     "y":{"field":"v","type":"quantitative","scale":{"type":"log","domain":[1,1000],"nice":false},"axis":{"values":[1,2,3,4,5,6,7,8,9,10,20,30,40,50,60,70,80,90,100,200,300,400,500,600,700,800,900,1000],"labelExpr":"datum.value==1||datum.value==10||datum.value==100||datum.value==1000 ? ''+datum.value : ''","labelOverlap":false,"title":"Chloroquine IC₅₀ (nM)","titlePadding":6}}},
    "layer":[
     {"data":{"name":"ref","format":{"parse":{"d":"date","z":"date"}}},"mark":{"type":"rule","color":"#8fa5ad","strokeDash":[3,2.5],"strokeWidth":1.3},"encoding":{"x2":{"field":"z"}}},
     {"data":{"name":"ref","format":{"parse":{"d":"date","z":"date"}}},"mark":{"type":"text","align":"left","baseline":"middle","dx":4,"fontSize":10.5,"color":"#1a1a1a"},"encoding":{"x":{"field":"z","type":"temporal","title":null},"text":{"field":"lab"}}},
     {"data":{"name":"cqt","format":{"parse":{"d":"date"}}},"transform":[{"calculate":"datum.g || 's'","as":"g2"}],"mark":{"type":"circle","size":30},
      "encoding":{"color":{"field":"g2","type":"nominal","scale":{"domain":["s","m"],"range":["#000000","#e8141c"]},"legend":{"title":null,"orient":"none","legendX":8,"legendY":-4,"direction":"horizontal","symbolType":"circle","symbolSize":48,"symbolStrokeWidth":0,"labelFontSize":10.5,"labelColor":"#1a1a1a","labelOffset":4,"columnPadding":6,"labelLimit":300,"labelExpr":"datum.value == 's' ? 'Study isolates' : 'Isolates with PfCRT Lys76Thr substitution'"}}}}
    ]},
   {"title":{"text":"C","anchor":"start","dx":-12,"offset":-4,"fontSize":15,"fontWeight":"bold","color":"#111111"},
    "bounds":"flush",
    "hconcat":[
     {"width":115,"height":157,"title":{"text":"Dihydroartemisinin","offset":0},
      "data":{"name":"sv"},
      "transform":[{"calculate":"floor(datum.v/0.0255)","as":"b"},{"window":[{"op":"row_number","as":"rn"}],"groupby":["b"]},{"calculate":"(datum.rn % 2 == 0 ? 1 : -1) * floor(datum.rn / 2)","as":"o"}],
      "mark":{"type":"circle","color":"#000000"},
      "encoding":{"x":{"field":"o","type":"quantitative","scale":{"domain":[-12,13.5],"nice":false,"zero":false},"axis":{"title":null}},
       "y":{"field":"v","type":"quantitative","scale":{"domain":[0,1],"nice":false},"axis":{"values":[0,0.5,1],"labelExpr":"replace(format(datum.value,'.1f'),'.','·')","title":"72 h survival (%)","titlePadding":4}}}}
    ]}
  ],"spacing":55,"bounds":"flush","resolve":{"scale":{"color":"independent"},"legend":{"color":"independent"}}}
 ],"spacing":17,"resolve":{"scale":{"color":"independent"},"legend":{"color":"independent"}}}
]
}
